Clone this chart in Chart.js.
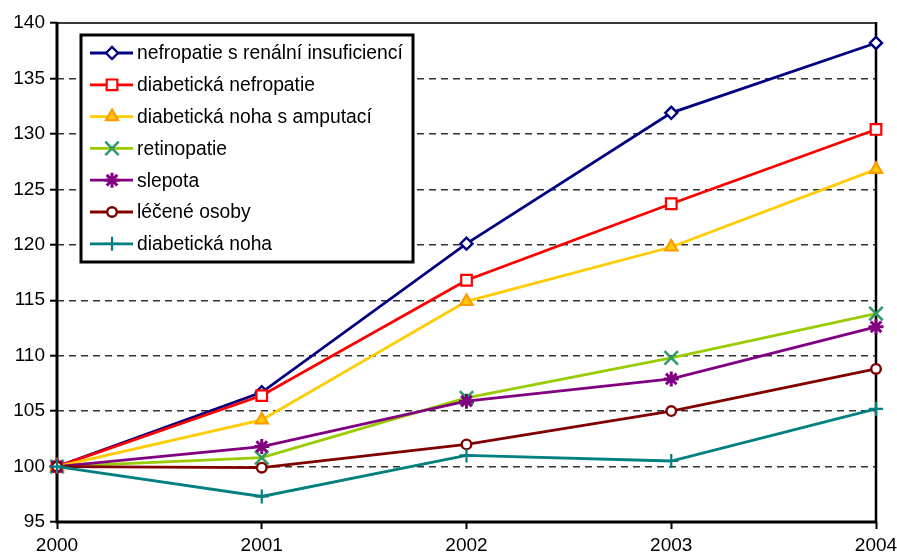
<!DOCTYPE html>
<html>
<head>
<meta charset="utf-8">
<script src="https://cdn.jsdelivr.net/npm/chart.js@4/dist/chart.umd.min.js"></script>
<style>
  html, body { margin: 0; padding: 0; background: #fff; }
  #wrap { width: 897px; height: 558px; position: relative; }
</style>
</head>
<body>
<div id="wrap"><canvas id="c" width="897" height="558"></canvas></div>
<script>
// Years on the horizontal axis
const years = ['2000', '2001', '2002', '2003', '2004'];

// Index values (2000 = 100)
const nefropatieRenalni = [100, 106.7, 120.1, 131.9, 138.2];
const diabetickaNefropatie = [100, 106.4, 116.8, 123.7, 130.4];
const nohaAmputace = [100, 104.2, 114.9, 119.8, 126.8];
const retinopatie = [100, 100.8, 106.2, 109.8, 113.8];
const slepota = [100, 101.8, 105.9, 107.9, 112.6];
const leceneOsoby = [100, 99.9, 102.0, 105.0, 108.8];
const diabetickaNoha = [100, 97.3, 101.0, 100.5, 105.2];

const seriesNames = [
  'nefropatie s renální insuficiencí',
  'diabetická nefropatie',
  'diabetická noha s amputací',
  'retinopatie',
  'slepota',
  'léčené osoby',
  'diabetická noha'
];

// Y axis range and step
const yMin = 95, yMax = 140, yStep = 5;

const FONT = '"Liberation Sans", Arial, sans-serif';

function series(i, data, line, style) {
  return Object.assign({
    label: seriesNames[i],
    data: data,
    borderColor: line,
    borderWidth: 2.8,
    tension: 0,
    clip: false,
    order: 10 - i
  }, style);
}

const datasets = [
  series(0, nefropatieRenalni, '#000080', {
    pointStyle: 'rectRot', pointRadius: 6, pointBorderColor: '#000080',
    pointBackgroundColor: '#ffffff', pointBorderWidth: 2.4
  }),
  series(1, diabetickaNefropatie, '#ff0000', {
    pointStyle: 'rect', pointRadius: 7.5, pointBorderColor: '#ff0000',
    pointBackgroundColor: '#ffffff', pointBorderWidth: 2.2
  }),
  series(2, nohaAmputace, '#ffcc00', {
    pointStyle: 'triangle', pointRadius: 7, pointBorderColor: '#ff9900',
    pointBackgroundColor: '#ffcc00', pointBorderWidth: 2.2
  }),
  series(3, retinopatie, '#99cc00', {
    pointStyle: 'crossRot', pointRadius: 9.5, pointBorderColor: '#339966',
    pointBackgroundColor: '#339966', pointBorderWidth: 2.6
  }),
  series(4, slepota, '#800080', {
    pointStyle: 'star', pointRadius: 7.5, pointBorderColor: '#800080',
    pointBackgroundColor: '#800080', pointBorderWidth: 3
  }),
  series(5, leceneOsoby, '#800000', {
    pointStyle: 'circle', pointRadius: 4.8, pointBorderColor: '#800000',
    pointBackgroundColor: '#ffffff', pointBorderWidth: 2.4
  }),
  series(6, diabetickaNoha, '#008080', {
    pointStyle: 'cross', pointRadius: 7, pointBorderColor: '#008080',
    pointBackgroundColor: '#008080', pointBorderWidth: 2.2
  })
];

// Frame around the plot: heavy left/bottom axes, right edge and top edge
const framePlugin = {
  id: 'frame',
  beforeDatasetsDraw(chart) {
    const { ctx, chartArea: a } = chart;
    ctx.save();
    ctx.lineCap = 'butt';
    ctx.strokeStyle = '#3a3a3a';
    ctx.lineWidth = 2;
    ctx.beginPath();
    ctx.moveTo(a.left, a.top);
    ctx.lineTo(a.right, a.top);
    ctx.stroke();
    ctx.strokeStyle = '#000';
    ctx.lineWidth = 2.5;
    ctx.beginPath();
    ctx.moveTo(a.right, a.top - 1);
    ctx.lineTo(a.right, a.bottom);
    ctx.stroke();
    ctx.lineWidth = 3;
    ctx.beginPath();
    ctx.moveTo(a.left, a.top - 1);
    ctx.lineTo(a.left, a.bottom + 1.5);
    ctx.moveTo(a.left - 1.5, a.bottom);
    ctx.lineTo(a.right + 1, a.bottom);
    ctx.stroke();
    ctx.restore();
  }
};

// Boxed legend inside the plot, line sample with marker for each series
const legendBoxPlugin = {
  id: 'legendBox',
  afterDraw(chart) {
    const { ctx } = chart;
    const box = { left: 81, top: 35, right: 413, bottom: 262 };
    const rowTop = 53, rowGap = 31.8;
    ctx.save();
    ctx.fillStyle = '#fff';
    ctx.fillRect(box.left, box.top, box.right - box.left, box.bottom - box.top);
    ctx.strokeStyle = '#000';
    ctx.lineWidth = 3;
    ctx.strokeRect(box.left, box.top, box.right - box.left, box.bottom - box.top);
    chart.data.datasets.forEach((ds, i) => {
      const y = rowTop + i * rowGap;
      ctx.strokeStyle = ds.borderColor;
      ctx.lineWidth = ds.borderWidth;
      ctx.beginPath();
      ctx.moveTo(90, y);
      ctx.lineTo(133, y);
      ctx.stroke();
      const opts = {
        pointStyle: ds.pointStyle,
        radius: ds.pointRadius,
        rotation: 0,
        borderWidth: ds.pointBorderWidth
      };
      ctx.strokeStyle = ds.pointBorderColor;
      ctx.fillStyle = ds.pointBackgroundColor;
      ctx.lineWidth = ds.pointBorderWidth;
      Chart.helpers.drawPoint(ctx, opts, 112, y);
      ctx.fillStyle = '#000';
      ctx.font = '19.3px ' + FONT;
      ctx.textBaseline = 'middle';
      ctx.textAlign = 'left';
      ctx.fillText(ds.label, 137, y + 1);
    });
    ctx.restore();
  }
};

new Chart(document.getElementById('c'), {
  type: 'line',
  data: { labels: years, datasets: datasets },
  options: {
    responsive: false,
    animation: false,
    events: [],
    layout: { padding: { top: 23, right: 21, left: 0, bottom: 0 } },
    plugins: { legend: { display: false }, tooltip: { enabled: false } },
    scales: {
      x: {
        type: 'category',
        offset: false,
        grid: {
          drawOnChartArea: false,
          drawTicks: true,
          tickLength: 7,
          tickColor: '#000',
          tickWidth: 2
        },
        border: { display: false },
        ticks: {
          color: '#000',
          font: { family: FONT, size: 19 },
          padding: 5,
          maxRotation: 0,
          autoSkip: false
        },
        afterFit(scale) {
          scale.height = 36;
          scale.paddingLeft = 0;
          scale.paddingRight = 0;
        }
      },
      y: {
        min: yMin,
        max: yMax,
        grid: {
          color: (c) => (c.tick && (c.tick.value === yMin || c.tick.value === yMax)) ? 'rgba(0,0,0,0)' : '#333',
          lineWidth: 1.4,
          tickLength: 7,
          tickColor: '#000',
          tickWidth: 2,
          tickBorderDash: []
        },
        border: { display: false, dash: [7, 5] },
        ticks: {
          stepSize: yStep,
          color: '#000',
          font: { family: FONT, size: 19 },
          padding: 5
        },
        afterFit(scale) {
          scale.width = 57;
          scale.paddingTop = 0;
          scale.paddingBottom = 0;
        }
      }
    }
  },
  plugins: [framePlugin, legendBoxPlugin]
});
</script>
</body>
</html>
